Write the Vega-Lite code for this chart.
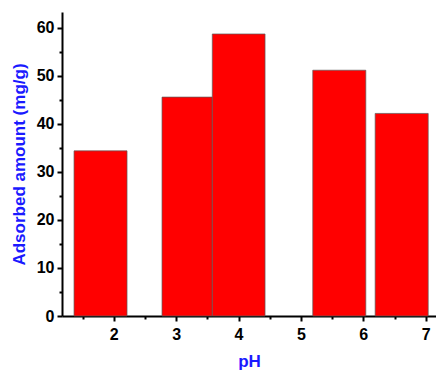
{
  "$schema": "https://vega.github.io/schema/vega-lite/v6.json",
  "autosize": "none",
  "width": 374,
  "height": 304,
  "padding": {"left": 62, "top": 12, "right": 0, "bottom": 56},
  "background": "white",
  "config": {"view": {"stroke": null}},
  "data": {
    "values": [
      {"pH_start": 1.364, "pH_end": 2.213, "amount": 34.4},
      {"pH_start": 2.774, "pH_end": 3.58, "amount": 45.6},
      {"pH_start": 3.58, "pH_end": 4.425, "amount": 58.75},
      {"pH_start": 5.19, "pH_end": 6.04, "amount": 51.2},
      {"pH_start": 6.19, "pH_end": 7.04, "amount": 42.2}
    ]
  },
  "mark": {"type": "rect", "fill": "#ff0000", "stroke": "#5a5a5a", "strokeWidth": 0.7},
  "encoding": {
    "x": {
      "field": "pH_start",
      "type": "quantitative",
      "scale": {"domain": [1.171, 7.165], "nice": false, "zero": false},
      "axis": {
        "title": "pH",
        "values": [1.5, 2, 2.5, 3, 3.5, 4, 4.5, 5, 5.5, 6, 6.5, 7],
        "labelExpr": "datum.value % 1 == 0 ? format(datum.value, 'd') : ''",
        "labelOverlap": false,
        "labelBound": false,
        "grid": false,
        "domainColor": "black",
        "domainWidth": 2,
        "tickColor": "black",
        "tickWidth": 2,
        "tickSize": {"condition": {"test": "datum.value % 1 == 0", "value": 5}, "value": 3},
        "labelFont": "Liberation Sans",
        "labelFontWeight": "bold",
        "labelFontSize": 16,
        "labelColor": "black",
        "labelPadding": 5,
        "labelFlush": false,
        "titleFont": "Liberation Sans",
        "titleFontWeight": "bold",
        "titleFontSize": 17,
        "titleColor": "#1a1aff",
        "titlePadding": 11
      }
    },
    "x2": {"field": "pH_end"},
    "y": {
      "field": "amount",
      "type": "quantitative",
      "scale": {"domain": [0, 63.33], "nice": false},
      "axis": {
        "title": "Adsorbed amount (mg/g)",
        "values": [0, 5, 10, 15, 20, 25, 30, 35, 40, 45, 50, 55, 60],
        "labelExpr": "datum.value % 10 == 0 ? format(datum.value, 'd') : ''",
        "labelOverlap": false,
        "grid": false,
        "domainColor": "black",
        "domainWidth": 2,
        "tickColor": "black",
        "tickWidth": 2,
        "tickSize": {"condition": {"test": "datum.value % 10 == 0", "value": 5}, "value": 3},
        "labelFont": "Liberation Sans",
        "labelFontWeight": "bold",
        "labelFontSize": 16,
        "labelColor": "black",
        "labelPadding": 3,
        "labelFlush": false,
        "titleFont": "Liberation Sans",
        "titleFontWeight": "bold",
        "titleFontSize": 17,
        "titleColor": "#1a1aff",
        "titlePadding": 8
      }
    },
    "y2": {"datum": 0}
  }
}
